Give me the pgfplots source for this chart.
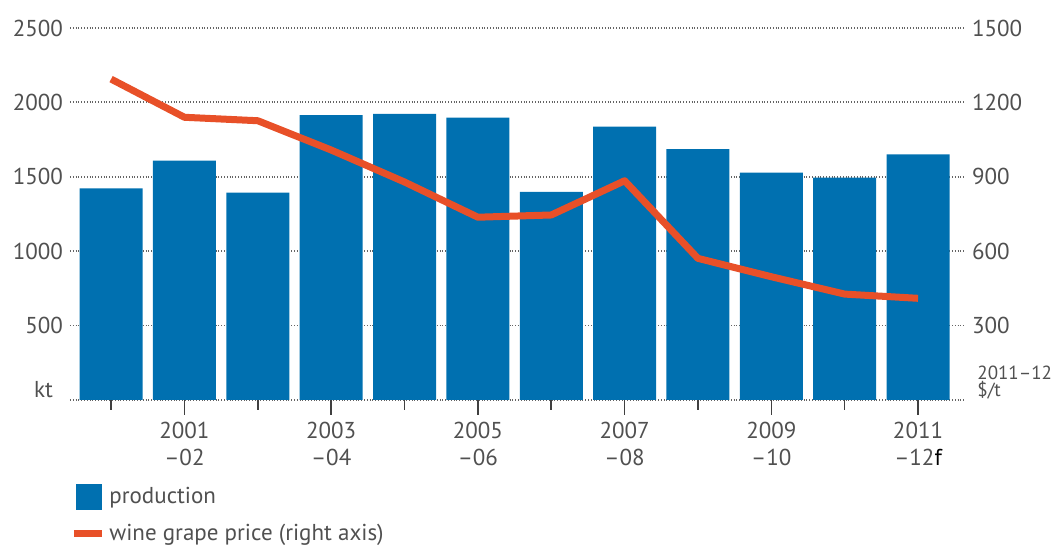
\documentclass[border=0pt]{standalone}
\usepackage{fontspec}
\setmainfont{PT Sans}
\usepackage{pgfplots}
\pgfplotsset{compat=1.18}
\definecolor{barblue}{RGB}{0,112,176}
\definecolor{lineorange}{RGB}{232,80,40}
\definecolor{txtgray}{RGB}{80,80,80}
\definecolor{gridgray}{RGB}{100,100,100}
\pgfplotstableread{
x prod price
0 1423 1294
1 1608 1140
2 1393 1126
3 1915 1008
4 1922 879
5 1897 737
6 1398 746
7 1837 884
8 1686 571
9 1528 497
10 1494 427
11 1651 410
}\datatable
\begin{document}
\begin{tikzpicture}
\begin{axis}[name=ax, scale only axis, width=447.5pt, height=186pt,
  xmin=-0.56, xmax=11.64, ymin=0, ymax=2500,
  /pgf/number format/assume math mode=true,
  /pgf/number format/1000 sep={},
  axis line style={draw=none},
  ytick={0,500,1000,1500,2000,2500},
  yticklabels={,500,1000,1500,2000,2500},
  ytick style={draw=none},
  ymajorgrids, grid style={densely dotted, gridgray, line width=0.9pt},
  xtick={1,3,5,7,9,11},
  xticklabels={2001\\\textendash02,2003\\\textendash04,2005\\\textendash06,2007\\\textendash08,2009\\\textendash10,2011\\\textendash12{\color{black}f}},
  minor xtick={0,2,4,6,8,10},
  xtick align=outside, xtick pos=bottom, ytick pos=left,
  major tick length=7.5pt, minor tick length=5pt,
  xtick style={black!75, line width=0.8pt},
  xticklabel style={align=center, text=txtgray, font=\fontsize{11.5}{13.5}\selectfont},
  yticklabel style={text=txtgray, font=\fontsize{11.5}{13}\selectfont},
  legend style={draw=none, fill=none, at={(0,-0.222)}, anchor=north west,
    font=\fontsize{11.5}{13}\selectfont, text=txtgray, row sep=5pt, inner sep=0pt},
  legend cell align=left,
]
\addplot[ybar, bar width=31.5pt, fill=barblue, draw=none,
  legend image code/.code={\fill[barblue] (0pt,-6.5pt) rectangle (13pt,6.5pt);}]
  table[x=x, y=prod] {\datatable};
\addlegendentry{production}
\addlegendimage{legend image code/.code={\draw[lineorange, line width=3.5pt] (-1pt,0pt) -- (13pt,0pt);}}
\addlegendentry{wine grape price (right axis)}
\end{axis}
\begin{axis}[scale only axis, width=447.5pt, height=186pt,
  xmin=-0.56, xmax=11.64, ymin=0, ymax=1500,
  /pgf/number format/assume math mode=true,
  /pgf/number format/1000 sep={},
  axis line style={draw=none},
  axis y line*=right, axis x line=none,
  ytick={300,600,900,1200,1500},
  ytick style={draw=none},
  yticklabel style={text=txtgray, font=\fontsize{11.5}{13}\selectfont},
]
\addplot[lineorange, line width=3.5pt, line join=round] table[x=x, y=price] {\datatable};
\end{axis}
\node[anchor=base east, text=txtgray, font=\fontsize{11.5}{13}\selectfont] at ([xshift=-5pt,yshift=1pt]ax.south west) {kt};
\node[anchor=south west, align=left, text=txtgray, inner sep=0pt, font=\fontsize{9.5}{8.5}\selectfont] at ([xshift=6pt,yshift=0pt]ax.south east) {2011\textendash12\\\$/t};
\pgfresetboundingbox
\path (ax.south west) ++(-35pt,-74.5pt) rectangle ++(527.5pt,274.5pt);
\end{tikzpicture}
\end{document}
